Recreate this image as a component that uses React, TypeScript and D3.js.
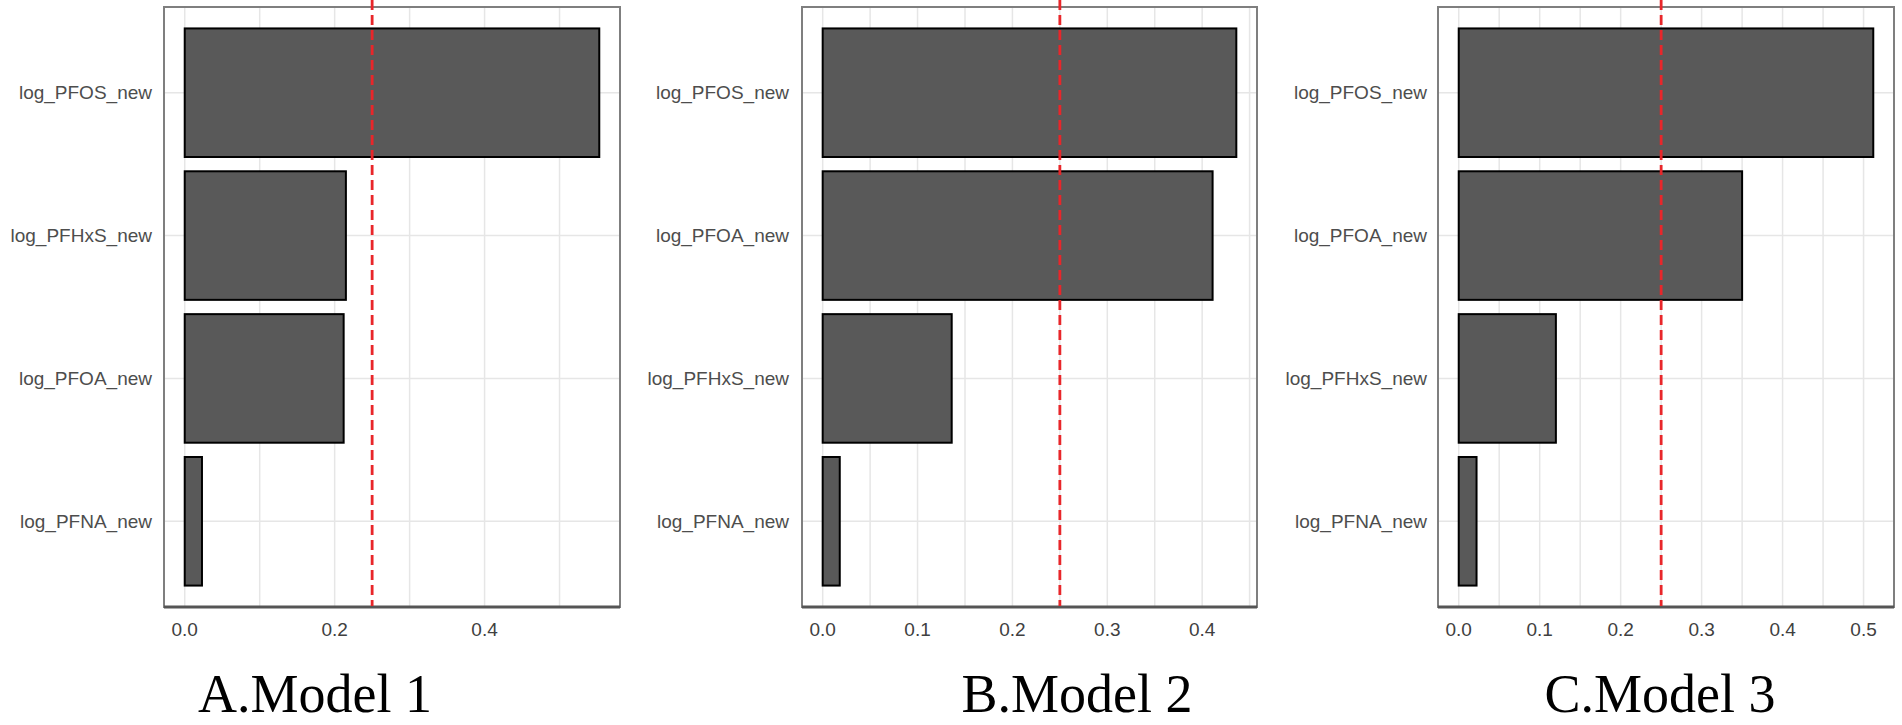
import React, { useEffect, useRef } from 'react';
import * as d3 from 'd3';

const categoriesA = ['log_PFOS_new', 'log_PFHxS_new', 'log_PFOA_new', 'log_PFNA_new'];
const valuesA = [0.553, 0.215, 0.212, 0.023];
const ticksA = [0, 0.2, 0.4];

const categoriesB = ['log_PFOS_new', 'log_PFOA_new', 'log_PFHxS_new', 'log_PFNA_new'];
const valuesB = [0.436, 0.411, 0.136, 0.018];
const ticksB = [0, 0.1, 0.2, 0.3, 0.4];

const categoriesC = ['log_PFOS_new', 'log_PFOA_new', 'log_PFHxS_new', 'log_PFNA_new'];
const valuesC = [0.512, 0.35, 0.12, 0.022];
const ticksC = [0, 0.1, 0.2, 0.3, 0.4, 0.5];

const titles = ['A.Model 1', 'B.Model 2', 'C.Model 3'];
const threshold = 0.25;

const App: React.FC = () => {
  const width = 1902;
  const height = 725;
  const svgRef = useRef<SVGSVGElement>(null);

  useEffect(() => {
    if (!svgRef.current) return;
    const svg = d3.select(svgRef.current);
    svg.selectAll('*').remove();

    const panels = [
      { cats: categoriesA, vals: valuesA, ticks: ticksA, left: 164, right: 620, labelX: 152, titleX: 315 },
      { cats: categoriesB, vals: valuesB, ticks: ticksB, left: 802, right: 1257, labelX: 789, titleX: 1077 },
      { cats: categoriesC, vals: valuesC, ticks: ticksC, left: 1438, right: 1894, labelX: 1427, titleX: 1660 },
    ];
    const top = 7;
    const bottom = 607;

    panels.forEach((p, pi) => {
      const g = svg.append('g');
      const maxV = d3.max(p.vals) as number;
      const x = d3.scaleLinear()
        .domain([-maxV * 0.05, maxV * 1.05])
        .range([p.left, p.right]);
      const y = d3.scaleBand<string>()
        .domain(p.cats)
        .range([top, bottom])
        .paddingInner(0.1)
        .paddingOuter(0.15);

      // grid: major at ticks, minor halfway between
      const stepT = p.ticks[1] - p.ticks[0];
      const gridVals = d3.range(0, x.domain()[1], stepT / 2);
      g.selectAll('.vgrid')
        .data(gridVals)
        .enter()
        .append('line')
        .attr('x1', d => x(d))
        .attr('x2', d => x(d))
        .attr('y1', top)
        .attr('y2', bottom)
        .attr('stroke', '#e6e6e6')
        .attr('stroke-width', 1.5);

      g.selectAll('.hgrid')
        .data(p.cats)
        .enter()
        .append('line')
        .attr('x1', p.left)
        .attr('x2', p.right)
        .attr('y1', d => (y(d) as number) + y.bandwidth() / 2)
        .attr('y2', d => (y(d) as number) + y.bandwidth() / 2)
        .attr('stroke', '#e6e6e6')
        .attr('stroke-width', 1.5);

      // bars
      g.selectAll('.bar')
        .data(p.cats)
        .enter()
        .append('rect')
        .attr('x', x(0))
        .attr('y', d => y(d) as number)
        .attr('width', (d, i) => x(p.vals[i]) - x(0))
        .attr('height', y.bandwidth())
        .attr('fill', '#595959')
        .attr('stroke', '#000')
        .attr('stroke-width', 2);

      // panel border
      g.append('rect')
        .attr('x', p.left)
        .attr('y', top)
        .attr('width', p.right - p.left)
        .attr('height', bottom - top)
        .attr('fill', 'none')
        .attr('stroke', '#7f7f7f')
        .attr('stroke-width', 2);
      g.append('line')
        .attr('x1', p.left)
        .attr('x2', p.right)
        .attr('y1', bottom)
        .attr('y2', bottom)
        .attr('stroke', '#555')
        .attr('stroke-width', 3);

      // threshold line
      g.append('line')
        .attr('x1', x(threshold))
        .attr('x2', x(threshold))
        .attr('y1', 0)
        .attr('y2', bottom - 1)
        .attr('stroke', '#e8262a')
        .attr('stroke-width', 2.8)
        .attr('stroke-dasharray', '10 5');

      // y labels
      g.selectAll('.ylab')
        .data(p.cats)
        .enter()
        .append('text')
        .attr('x', p.labelX)
        .attr('y', d => (y(d) as number) + y.bandwidth() / 2)
        .attr('dy', '0.35em')
        .attr('text-anchor', 'end')
        .attr('font-family', '"Liberation Sans", Arial, sans-serif')
        .attr('font-size', 19)
        .attr('fill', '#4d4d4d')
        .text(d => d);

      // x tick labels
      g.selectAll('.xlab')
        .data(p.ticks)
        .enter()
        .append('text')
        .attr('x', d => x(d))
        .attr('y', 629)
        .attr('dy', '0.35em')
        .attr('text-anchor', 'middle')
        .attr('font-family', '"Liberation Sans", Arial, sans-serif')
        .attr('font-size', 19)
        .attr('fill', '#404040')
        .text(d => d3.format('.1f')(d));

      // panel title
      g.append('text')
        .attr('x', p.titleX)
        .attr('y', 712)
        .attr('text-anchor', 'middle')
        .attr('font-family', '"Liberation Serif", "Times New Roman", serif')
        .attr('font-size', 54)
        .attr('fill', '#000')
        .text(titles[pi]);
    });
  }, []);

  return (
    <svg
      ref={svgRef}
      width={width}
      height={height}
      style={{ position: 'absolute', left: 0, top: 0, display: 'block', background: '#fff' }}
    />
  );
};

export default App;
